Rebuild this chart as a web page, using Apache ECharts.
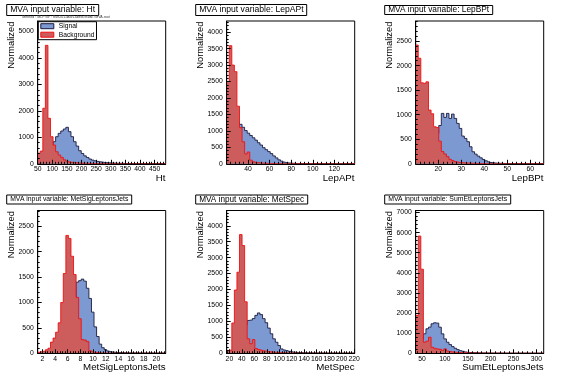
<!DOCTYPE html>
<html><head><meta charset="utf-8">
<script src="https://cdn.jsdelivr.net/npm/echarts@6/dist/echarts.min.js"></script>
<style>html,body{margin:0;padding:0;background:#fff}#c{width:567px;height:379px}</style>
</head><body><div id="c"></div>
<script>
// ---------------- data ----------------
const varNames = ['Ht', 'LepAPt', 'LepBPt', 'MetSigLeptonsJets', 'MetSpec', 'SumEtLeptonsJets'];
const xRanges = [[50, 488], [20.3, 138.8], [10.2, 65.8], [1.26, 21.47], [15.7, 221], [36, 316]];
const yMaxes = [5400, 4340, 2910, 2810, 4480, 7100];

const xTickLabels = [
  [50, 100, 150, 200, 250, 300, 350, 400, 450],
  [40, 60, 80, 100, 120],
  [20, 30, 40, 50, 60],
  [2, 4, 6, 8, 10, 12, 14, 16, 18, 20],
  [20, 40, 60, 80, 100, 120, 140, 160, 180, 200, 220],
  [50, 100, 150, 200, 250, 300]
];
const yTickLabels = [
  [0, 1000, 2000, 3000, 4000, 5000],
  [0, 500, 1000, 1500, 2000, 2500, 3000, 3500, 4000],
  [0, 500, 1000, 1500, 2000, 2500],
  [0, 500, 1000, 1500, 2000, 2500],
  [0, 500, 1000, 1500, 2000, 2500, 3000, 3500, 4000],
  [0, 1000, 2000, 3000, 4000, 5000, 6000, 7000]
];

const sigHt = [5, 30, 120, 300, 500, 700, 835, 1025, 1150, 1240, 1315, 1380, 1215, 1025, 835, 670, 495, 390, 300, 240, 180, 140, 115, 90, 75, 60, 50, 40, 35, 30, 25, 20, 18, 15, 12, 10, 9, 8, 7, 6, 5, 5, 4, 4, 3, 3, 2, 2, 2, 1];
const bkgHt = [400, 480, 2100, 4480, 1720, 1025, 710, 455, 330, 240, 150, 100, 70, 55, 45, 35, 30, 25, 20, 18, 15, 12, 10, 10, 8, 8, 6, 6, 5, 5, 4, 4, 3, 3, 3, 2, 2, 2, 2, 2, 1, 1, 1, 1, 1, 1, 1, 1, 1, 1];

const sigLepAPt = [1000, 1300, 1350, 1300, 1250, 1200, 1110, 1010, 930, 860, 790, 720, 640, 570, 490, 430, 370, 310, 240, 180, 120, 80, 50, 35, 25, 18, 14, 10, 8, 6, 5, 4, 4, 3, 3, 2, 2, 2, 2, 1, 1, 1, 1, 1, 1, 1, 1, 1, 1, 1];
const bkgLepAPt = [2500, 3590, 3000, 2800, 1750, 1100, 670, 300, 360, 110, 60, 45, 35, 25, 20, 15, 12, 10, 9, 8, 7, 6, 5, 5, 4, 4, 3, 3, 3, 2, 2, 2, 2, 2, 1, 1, 1, 1, 1, 1, 1, 1, 1, 1, 1, 1, 1, 1, 1, 1];

const sigLepBPt = [20, 40, 80, 130, 200, 280, 380, 500, 620, 780, 1027, 945, 1027, 925, 1013, 925, 823, 721, 565, 517, 450, 347, 245, 197, 156, 122, 88, 61, 40, 27, 20, 15, 12, 10, 8, 6, 5, 4, 3, 3, 2, 2, 2, 1, 1, 1, 1, 1, 1, 1];
const bkgLepBPt = [2420, 2150, 1650, 1640, 1670, 1095, 1020, 755, 740, 460, 250, 200, 145, 90, 65, 45, 35, 28, 22, 18, 15, 12, 10, 8, 7, 6, 5, 4, 4, 3, 3, 2, 2, 2, 2, 1, 1, 1, 1, 1, 1, 1, 1, 1, 1, 1, 1, 1, 1, 1];

const sigMetSig = [5, 8, 10, 15, 20, 30, 45, 70, 110, 170, 260, 380, 520, 700, 900, 1400, 1430, 1460, 1420, 1280, 1080, 810, 520, 330, 180, 110, 70, 45, 32, 25, 20, 16, 13, 11, 9, 8, 7, 6, 5, 5, 4, 4, 3, 3, 3, 2, 2, 2, 2, 1];
const bkgMetSig = [20, 30, 40, 70, 100, 220, 300, 415, 600, 1000, 1570, 2320, 2260, 1910, 1550, 1100, 680, 270, 260, 230, 50, 30, 20, 15, 10, 8, 6, 5, 4, 3, 3, 2, 2, 2, 2, 1, 1, 1, 1, 1, 1, 1, 1, 1, 1, 1, 1, 1, 1, 1];

const sigMetSpec = [20, 50, 100, 200, 350, 500, 700, 900, 1030, 1040, 1090, 1190, 1266, 1214, 1087, 960, 790, 612, 454, 348, 243, 137, 105, 84, 63, 45, 35, 28, 22, 18, 15, 12, 10, 9, 8, 7, 6, 5, 5, 4, 4, 3, 3, 3, 2, 2, 2, 2, 1, 1];
const bkgMetSpec = [85, 100, 950, 1985, 2544, 3725, 3380, 1615, 454, 300, 430, 150, 120, 100, 80, 70, 55, 45, 38, 30, 25, 20, 18, 15, 12, 10, 8, 7, 6, 5, 4, 4, 3, 3, 2, 2, 2, 2, 1, 1, 1, 1, 1, 1, 1, 1, 1, 1, 1, 1];

const sigSumEt = [300, 500, 700, 970, 1220, 1300, 1467, 1517, 1500, 1300, 967, 717, 550, 433, 333, 250, 183, 133, 100, 67, 50, 40, 32, 26, 20, 16, 13, 10, 8, 7, 6, 5, 5, 4, 4, 3, 3, 3, 2, 2, 2, 2, 2, 1, 1, 1, 1, 1, 1, 1];
const bkgSumEt = [1880, 5830, 4180, 550, 600, 800, 300, 250, 220, 200, 150, 220, 110, 90, 70, 55, 45, 38, 30, 25, 20, 18, 15, 12, 10, 9, 8, 7, 6, 5, 4, 4, 3, 3, 3, 2, 2, 2, 2, 1, 1, 1, 1, 1, 1, 1, 1, 1, 1, 1];

const signalHists = [sigHt, sigLepAPt, sigLepBPt, sigMetSig, sigMetSpec, sigSumEt];
const backgroundHists = [bkgHt, bkgLepAPt, bkgLepBPt, bkgMetSig, bkgMetSpec, bkgSumEt];
const legendNames = ['Signal', 'Background'];
const methodText = 'Method : MLP for : Run2011AB/Labels/MVA/TMVA.root';

// ---------------- layout / style ----------------
const FONT = '"Liberation Sans", Arial, Helvetica, sans-serif';
const SIG_FILL = '#7d99d1', SIG_LINE = '#1a1a40';
const BKG_FILL = '#cd5c5c', BKG_LINE = '#f01010';
const colX = [0, 189, 378], rowY = [0, 189.5];
const titleFont = [8.6, 8.6, 8.3, 6.8, 8.2, 6.9];

// bins -> [lowEdge, highEdge, content]
function binRows(lo, hi, vals) {
  const w = (hi - lo) / vals.length;
  return vals.map((v, i) => [lo + i * w, lo + (i + 1) * w, v]);
}
function minorTicks(ticks, min, max, sub) {
  const step = (ticks[1] - ticks[0]) / sub;
  let start = ticks[0];
  while (start - step >= min - 1e-9) start -= step;
  const out = [];
  for (let v = start; v <= max + 1e-9; v += step) {
    const r = Math.round(v * 1e6) / 1e6;
    if (!ticks.some(t => Math.abs(t - r) < 1e-6)) out.push(r);
  }
  return out;
}
// draws the whole histogram (filled step shape + outline) once, through the axis scales
function histRenderer(fill, stroke) {
  return function (params, api) {
    if (params.dataIndexInside !== 0) return null;
    const n = params.dataInsideLength;
    const pts = [api.coord([api.value(0, 0), 0])];
    for (let j = 0; j < n; j++) {
      const lo = api.value(0, j), hi = api.value(1, j), v = api.value(2, j);
      pts.push(api.coord([lo, v]));
      pts.push(api.coord([hi, v]));
    }
    pts.push(api.coord([api.value(1, n - 1), 0]));
    return {
      type: 'group',
      children: [
        {type: 'polygon', shape: {points: pts}, style: {fill: fill, stroke: null}},
        {type: 'polyline', shape: {points: pts}, style: {fill: null, stroke: stroke, lineWidth: 0.9}}
      ]
    };
  };
}

const grids = [], xAxes = [], yAxes = [], series = [], titles = [], graphics = [];
varNames.forEach((name, p) => {
  const cx = colX[p % 3], ry = rowY[Math.floor(p / 3)];
  const left = cx + 37.7, top = ry + 21, W = 128, H = 142.8;
  grids.push({left, top, width: W, height: H, show: true, borderColor: '#000', borderWidth: 1, backgroundColor: '#fff'});
  const [xmin, xmax] = xRanges[p];
  const xt = xTickLabels[p], yt = yTickLabels[p];
  const lbl = {fontSize: 6.8, color: '#000', fontFamily: FONT};
  xAxes.push({type: 'value', gridIndex: p, min: xmin, max: xmax, position: 'bottom', z: 5,
    axisLine: {show: true, onZero: false, lineStyle: {color: '#000', width: 1}},
    axisTick: {show: true, inside: true, length: 4, customValues: xt, lineStyle: {color: '#000', width: 1}},
    axisLabel: Object.assign({customValues: xt, margin: 2, formatter: v => String(v)}, lbl),
    splitLine: {show: false}});
  xAxes.push({type: 'value', gridIndex: p, min: xmin, max: xmax, position: 'bottom', z: 5,
    axisLine: {show: false},
    axisTick: {show: true, inside: true, length: 2, customValues: minorTicks(xt, xmin, xmax, 5), lineStyle: {color: '#000', width: 1}},
    axisLabel: {show: false}, splitLine: {show: false}});
  yAxes.push({type: 'value', gridIndex: p, min: 0, max: yMaxes[p], position: 'left', z: 5,
    axisLine: {show: true, onZero: false, lineStyle: {color: '#000', width: 1}},
    axisTick: {show: true, inside: true, length: 4, customValues: yt, lineStyle: {color: '#000', width: 1}},
    axisLabel: Object.assign({customValues: yt, margin: 4, formatter: v => String(v)}, lbl),
    splitLine: {show: false}});
  yAxes.push({type: 'value', gridIndex: p, min: 0, max: yMaxes[p], position: 'left', z: 5,
    axisLine: {show: false},
    axisTick: {show: true, inside: true, length: 2, customValues: minorTicks(yt, 0, yMaxes[p], 5), lineStyle: {color: '#000', width: 1}},
    axisLabel: {show: false}, splitLine: {show: false}});

  series.push({type: 'custom', name: legendNames[0], xAxisIndex: 2 * p, yAxisIndex: 2 * p,
    data: binRows(xmin, xmax, signalHists[p]), encode: {x: [0, 1], y: 2}, silent: true, clip: true,
    color: SIG_FILL, renderItem: histRenderer(SIG_FILL, SIG_LINE), z: 2});
  series.push({type: 'custom', name: legendNames[1], xAxisIndex: 2 * p, yAxisIndex: 2 * p,
    data: binRows(xmin, xmax, backgroundHists[p]), encode: {x: [0, 1], y: 2}, silent: true, clip: true,
    color: BKG_FILL, renderItem: histRenderer(BKG_FILL, BKG_LINE), z: 3});

  titles.push({text: 'MVA input variable: ' + name, left: cx + 6.7, top: ry + 5,
    padding: [1, 3.5, 1, 3.5], borderColor: '#000', borderWidth: 1, backgroundColor: '#fff',
    textStyle: {fontSize: titleFont[p], fontWeight: 'normal', color: '#000', fontFamily: FONT, lineHeight: 8}});

  graphics.push({type: 'text', x: cx + 11.5, y: ry + 21.7, rotation: Math.PI / 2, z: 10,
    style: {text: 'Normalized', fontSize: 9.3, fontFamily: FONT, fill: '#000', align: 'right', verticalAlign: 'middle'}});
  graphics.push({type: 'text', x: cx + 165.5, y: ry + 178.3, z: 10,
    style: {text: name, fontSize: 9.7, fontFamily: FONT, fill: '#000', align: 'right', verticalAlign: 'middle'}});
});
graphics.push({type: 'text', x: 66, y: 16.8, z: 10,
  style: {text: methodText, fontSize: 3.6, fontFamily: FONT, fill: '#444', align: 'center', verticalAlign: 'middle'}});

const chart = echarts.init(document.getElementById('c'), null, {renderer: 'canvas', width: 567, height: 379});
chart.setOption({
  animation: false,
  backgroundColor: '#fff',
  title: titles,
  grid: grids,
  xAxis: xAxes,
  yAxis: yAxes,
  legend: {
    left: 38.3, top: 21.7, orient: 'vertical', z: 20, selectedMode: false,
    padding: [0.5, 2, 1, 2], itemGap: 0.5, itemWidth: 13, itemHeight: 5, icon: 'rect',
    backgroundColor: '#fff', borderColor: '#000', borderWidth: 1,
    textStyle: {fontSize: 6.7, color: '#000', fontFamily: FONT, lineHeight: 8},
    data: [
      {name: legendNames[0], icon: 'rect', itemStyle: {color: SIG_FILL, borderColor: SIG_LINE, borderWidth: 1}},
      {name: legendNames[1], icon: 'rect', itemStyle: {color: BKG_FILL, borderColor: BKG_LINE, borderWidth: 1}}
    ]
  },
  graphic: graphics,
  series: series
});
</script></body></html>
